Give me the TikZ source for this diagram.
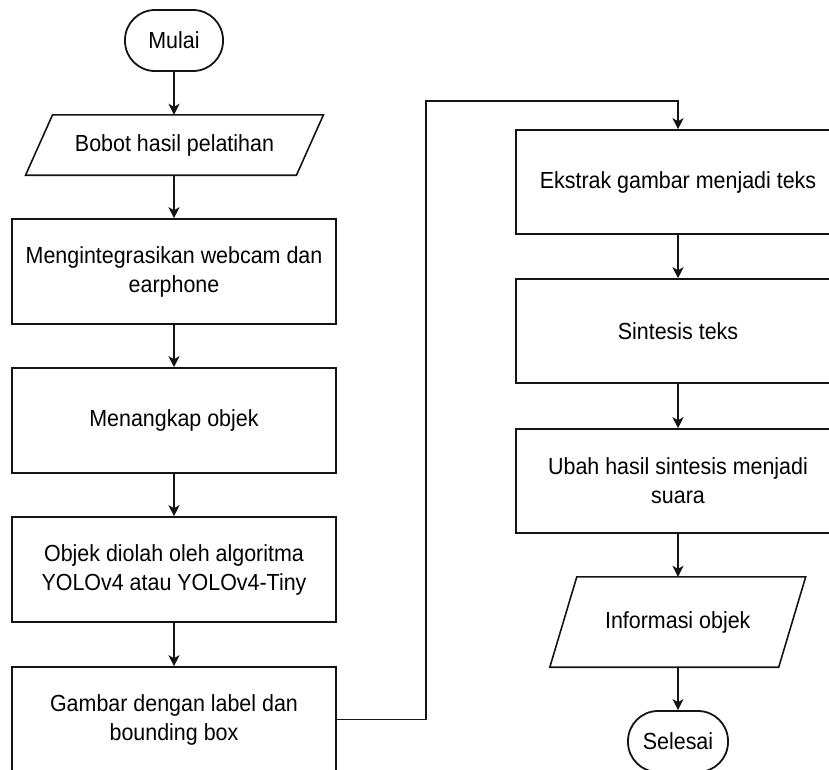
\documentclass[tikz,border=0pt]{standalone}
\usepackage{fontspec}
\setmainfont{Liberation Sans}[FakeStretch=0.92]
\usetikzlibrary{arrows.meta}

\definecolor{ink}{RGB}{20,20,20}

\tikzset{
  base/.style={font=\fontsize{23.3}{29}\selectfont, text=black, align=center, inner sep=0pt},
  process/.style={base, draw=ink, line width=1.6pt, minimum width=324pt, minimum height=105pt},
  terminal/.style={base, draw=ink, line width=1.8pt, rounded corners=30pt, minimum height=61pt},
  iobox/.style={base, minimum height=60pt},
  shape edge/.style={draw=ink, line width=1.6pt, line join=miter},
  flow/.style={draw=ink, line width=1.6pt, -{Stealth[length=11pt, width=11pt, inset=3pt]}}
}

\begin{document}
\begin{tikzpicture}[x=1pt, y=-1pt]
  \useasboundingbox (0,0) rectangle (829,769);
  \clip (0,0) rectangle (829,769);

  % left column
  \node[terminal, minimum width=98pt] (mulai) at (174,40.5) {Mulai};
  \node[iobox, minimum width=270.5pt] (bobot) at (174.5,145) {Bobot hasil pelatihan};
  \node[process] (integ) at (174,271.5) {Mengintegrasikan webcam dan\\earphone};
  \node[process] (tangkap) at (174,420.5) {Menangkap objek};
  \node[process] (olah) at (174,569.5) {Objek diolah oleh algoritma\\YOLOv4 atau YOLOv4-Tiny};
  \node[process] (gambar) at (174,719.5) {Gambar dengan label dan\\bounding box};

  % right column
  \node[process, minimum height=104pt] (ekstrak) at (678,182) {Ekstrak gambar menjadi teks};
  \node[process, minimum height=104pt] (sintesis) at (678,331) {Sintesis teks};
  \node[process, minimum height=104pt] (ubah) at (678,481) {Ubah hasil sintesis menjadi\\suara};
  \node[iobox, minimum width=228.5pt, minimum height=90pt] (info) at (677.75,622) {Informasi objek};
  \node[terminal, minimum width=100pt] (selesai) at (678,741.5) {Selesai};

  % parallelogram outlines for the data nodes
  \draw[shape edge] ([xshift=-13.5pt]bobot.south west) -- ([xshift=13.5pt]bobot.north west)
    -- ([xshift=13.5pt]bobot.north east) -- ([xshift=-13.5pt]bobot.south east) -- cycle;
  \draw[shape edge] ([xshift=-13.5pt]info.south west) -- ([xshift=13.5pt]info.north west)
    -- ([xshift=13.5pt]info.north east) -- ([xshift=-13.5pt]info.south east) -- cycle;

  % connectors
  \coordinate (bend) at (426,101);
  \draw[flow] (mulai) -- (bobot.north -| mulai);
  \draw[flow] (bobot.south -| integ) -- (integ);
  \draw[flow] (integ) -- (tangkap);
  \draw[flow] (tangkap) -- (olah);
  \draw[flow] (olah) -- (gambar);
  \draw[flow] (gambar.east) -| (bend) -| (ekstrak.north);
  \draw[flow] (ekstrak) -- (sintesis);
  \draw[flow] (sintesis) -- (ubah);
  \draw[flow] (ubah.south) -- (info.north -| ubah.south);
  \draw[flow] (info.south -| selesai) -- (selesai);
\end{tikzpicture}
\end{document}
